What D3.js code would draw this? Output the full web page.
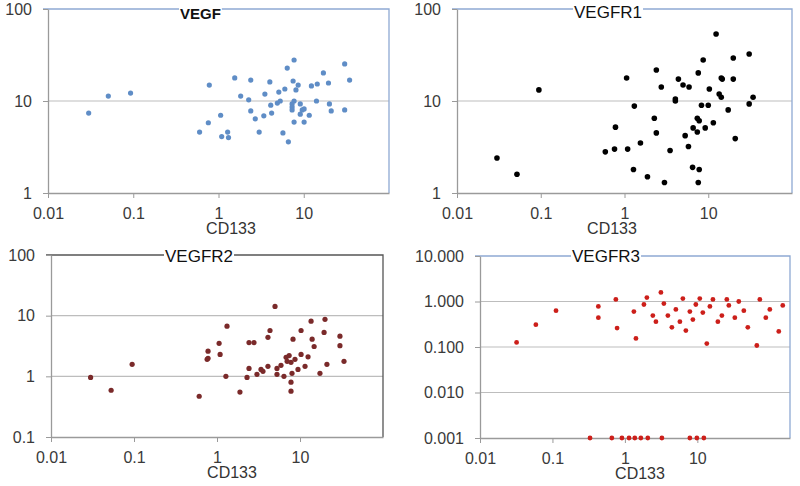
<!DOCTYPE html>
<html lang="en">
<head>
<meta charset="UTF-8">
<script src="https://cdnjs.cloudflare.com/ajax/libs/d3/7.8.5/d3.min.js"></script>
<style>
body { margin: 0; background: white; }
svg { display: block; font-family: "Liberation Sans", Arial, sans-serif; }
.tick text { fill: #3a3a3a; }
</style>
</head>
<body>
<script>
// CD133 (x) vs marker level (y), one pair of arrays per panel
var vegfX = [0.030, 0.051, 0.093, 0.78, 1.55, 2.39, 4.0, 7.7, 6.4, 7.5, 8.6, 1.82, 2.26, 3.5, 5.1, 6.0, 8.1, 12.3, 14.4, 17.0, 19.5, 30.2, 34.5, 14.1, 20, 7.7, 5.3, 4.9, 4.1, 7.3, 7.3, 9.1, 10.1, 2.39, 1.06, 3.4, 4.2, 2.7, 21, 30.2, 11.6, 0.76, 0.60, 1.28, 1.09, 1.31, 3.0, 5.7, 6.6, 7.7, 10.1, 9.1, 9.6, 7.3];
var vegfY = [7.4, 11.3, 12.2, 14.9, 17.8, 16.9, 16.1, 27.9, 22.8, 16.5, 14.9, 11.3, 10.3, 11.9, 12.5, 13.5, 13.2, 14.6, 15.3, 20.2, 15.7, 25.3, 16.9, 10.0, 9.3, 10.0, 10.0, 9.5, 9.0, 9.3, 8.6, 9.3, 8.2, 7.8, 7.0, 6.9, 7.4, 6.4, 7.8, 8.0, 7.0, 5.8, 4.6, 4.6, 4.1, 4.0, 4.6, 4.5, 3.6, 5.9, 5.9, 7.2, 8.0, 8.0];

var vegfr1X = [0.095, 0.030, 0.052, 12.4, 30.8, 19.9, 8.7, 2.40, 1.06, 7.6, 4.4, 14.3, 14.7, 19.9, 2.75, 5.0, 5.9, 10.3, 13.5, 14.3, 4.05, 4.05, 34.3, 30.8, 8.3, 10.0, 17.3, 1.31, 2.27, 7.4, 7.8, 11.5, 9.2, 6.6, 7.4, 5.3, 2.40, 0.78, 1.55, 21, 5.8, 3.5, 0.59, 0.76, 1.09, 1.28, 1.88, 3.0, 6.5, 7.8, 7.6];
var vegfr1Y = [13.2, 2.4, 1.6, 53.5, 32.4, 29.3, 27.9, 21.7, 17.8, 20.2, 17.3, 17.8, 17.3, 17.3, 14.2, 14.9, 14.2, 13.5, 11.9, 11.0, 10.5, 10.0, 11.0, 9.3, 9.0, 9.0, 8.0, 8.8, 6.5, 6.5, 6.1, 5.8, 5.1, 5.1, 4.6, 4.2, 4.5, 5.2, 3.5, 3.9, 3.2, 2.9, 2.8, 3.0, 3.0, 1.8, 1.5, 1.3, 1.9, 1.8, 1.3];

var vegfr2X = [0.030, 0.053, 0.095, 0.61, 1.28, 1.89, 2.30, 2.43, 3.03, 3.39, 3.58, 4.11, 5.28, 5.28, 5.90, 6.41, 8.01, 7.79, 7.79, 9.46, 11.5, 17.4, 21.1, 33.9, 7.79, 0.76, 5.0, 1.32, 4.35, 4.11, 10.3, 13.6, 20.0, 19.5, 8.24, 14.0, 14.8, 30.3, 30.3, 1.06, 2.43, 2.79, 0.78, 1.09, 0.78, 10.3, 12.5, 6.8, 7.4, 8.7, 7.0];
var vegfr2Y = [0.96, 0.59, 1.58, 0.47, 1.0, 0.55, 0.96, 1.35, 1.08, 1.30, 1.21, 1.46, 1.08, 1.35, 1.52, 1.0, 1.12, 0.80, 0.57, 1.30, 1.46, 1.12, 1.58, 1.77, 1.70, 1.91, 14.2, 6.7, 5.7, 4.4, 5.7, 8.1, 8.7, 5.3, 4.1, 4.1, 3.1, 4.6, 3.2, 3.5, 3.6, 3.6, 2.6, 2.3, 1.98, 2.3, 2.1, 2.06, 2.2, 1.91, 1.77];

var vegfr3X = [0.032, 0.059, 0.112, 0.43, 0.43, 0.75, 0.78, 1.33, 1.42, 1.83, 2.01, 2.43, 2.68, 3.14, 3.45, 3.92, 4.45, 5.05, 5.74, 6.31, 6.94, 7.88, 8.67, 9.53, 10.8, 11.9, 13.5, 14.9, 16.4, 19.2, 21.8, 25.5, 27.2, 32.9, 37.3, 43.8, 49.7, 66.2, 72.8, 88.1, 100, 133, 151,
               0.33, 0.66, 0.91, 1.14, 1.37, 1.66, 2.07, 3.24, 7.88, 9.84, 12.3];
var vegfr3Y = [0.126, 0.31, 0.63, 0.78, 0.44, 1.11, 0.26, 0.60, 0.154, 0.86, 1.22, 0.49, 0.36, 1.58, 0.90, 0.49, 0.27, 0.67, 0.36, 1.16, 0.23, 0.60, 0.40, 0.86, 1.16, 0.57, 0.119, 0.78, 1.11, 0.36, 0.49, 1.11, 0.82, 0.44, 1.0, 0.63, 0.27, 0.108, 1.11, 0.44, 0.67, 0.22, 0.82,
               0.001, 0.001, 0.001, 0.001, 0.001, 0.001, 0.001, 0.001, 0.001, 0.001, 0.001];

var xTicks = [0.01, 0.1, 1, 10];

var panels = [
  { title: "VEGF", bold: true, xs: vegfX, ys: vegfY, color: "#5f8dc6", r: 2.6,
    left: 48, right: 389, top: 9, bottom: 193, xMax: 100, yDomain: [1, 100], yTicks: [1, 10, 100],
    fmt: d3.format("d"), border: "#8ea9d3", titleX: 180, titleY: 19, labelX: 231 },
  { title: "VEGFR1", bold: false, xs: vegfr1X, ys: vegfr1Y, color: "#000", r: 2.8,
    left: 457, right: 792, top: 9, bottom: 193, xMax: 100, yDomain: [1, 100], yTicks: [1, 10, 100],
    fmt: d3.format("d"), border: "#8ea9d3", titleX: 574, titleY: 18, labelX: 612 },
  { title: "VEGFR2", bold: false, xs: vegfr2X, ys: vegfr2Y, color: "#7a2a2a", r: 2.6,
    left: 51, right: 383, top: 255, bottom: 437, xMax: 100, yDomain: [0.1, 100], yTicks: [0.1, 1, 10, 100],
    fmt: function(d) { return d < 1 ? "0.1" : d3.format("d")(d); }, border: "#555", titleX: 165, titleY: 262, labelX: 232 },
  { title: "VEGFR3", bold: false, xs: vegfr3X, ys: vegfr3Y, color: "#cc1f1a", r: 2.4,
    left: 480, right: 790, top: 256, bottom: 438, xMax: 190, yDomain: [0.001, 10], yTicks: [0.001, 0.01, 0.1, 1, 10],
    fmt: d3.format(".3f"), border: "#8ea9d3", titleX: 572, titleY: 262, labelX: 640 }
];

var svg = d3.select("body").append("svg")
  .attr("width", 800)
  .attr("height", 486);

panels.forEach(function(p) {
  var x = d3.scaleLog().domain([0.01, p.xMax]).range([p.left, p.right]);
  var y = d3.scaleLog().domain(p.yDomain).range([p.bottom, p.top]);
  var g = svg.append("g");

  // gridlines
  g.selectAll(".grid")
    .data(p.yTicks.slice(1, -1))
    .enter().append("line")
    .attr("x1", p.left).attr("x2", p.right)
    .attr("y1", d => y(d)).attr("y2", d => y(d))
    .attr("stroke", "#bdbdbd").attr("stroke-width", 1.2);

  // plot border (top + right)
  g.append("path")
    .attr("d", "M" + (p.left - 5) + "," + p.top + "H" + p.right + "V" + p.bottom)
    .attr("fill", "none").attr("stroke", p.border).attr("stroke-width", 1.3);

  var xAxis = g.append("g")
    .attr("transform", "translate(0," + p.bottom + ")")
    .call(d3.axisBottom(x).tickValues(xTicks).tickFormat(d => String(d)).tickSize(5).tickSizeOuter(0).tickPadding(10));
  xAxis.select(".domain").attr("stroke", "#9a9a9a").attr("stroke-width", 1.3);
  xAxis.selectAll(".tick line").attr("stroke", "#9a9a9a");
  xAxis.selectAll(".tick text").style("font-size", "16px");

  var yAxis = g.append("g")
    .attr("transform", "translate(" + p.left + ",0)")
    .call(d3.axisLeft(y).tickValues(p.yTicks).tickFormat(p.fmt).tickSize(5).tickSizeOuter(0).tickPadding(11));
  yAxis.select(".domain").attr("stroke", "#9a9a9a").attr("stroke-width", 1.3);
  yAxis.selectAll(".tick line").attr("stroke", "#9a9a9a");
  yAxis.selectAll(".tick text").style("font-size", "16px");

  g.append("text")
    .attr("x", p.labelX)
    .attr("y", p.bottom + 41)
    .attr("text-anchor", "middle")
    .style("font-size", "16px")
    .attr("fill", "#333")
    .text("CD133");

  // title sits over the top border with a white backing
  var bg = g.append("rect").attr("fill", "white");
  var t = g.append("text")
    .attr("x", p.titleX)
    .attr("y", p.titleY)
    .style("font-size", p.bold ? "15px" : "17px")
    .style("font-weight", p.bold ? "bold" : "normal")
    .attr("fill", "#111")
    .text(p.title);
  var bb = t.node().getBBox();
  bg.attr("x", bb.x - 1).attr("y", bb.y).attr("width", bb.width + 2).attr("height", bb.height);

  g.selectAll(".dot")
    .data(p.xs)
    .enter().append("circle")
    .attr("cx", d => x(d))
    .attr("cy", (d, i) => y(p.ys[i]))
    .attr("r", p.r)
    .attr("fill", p.color);
});
</script>
</body>
</html>
